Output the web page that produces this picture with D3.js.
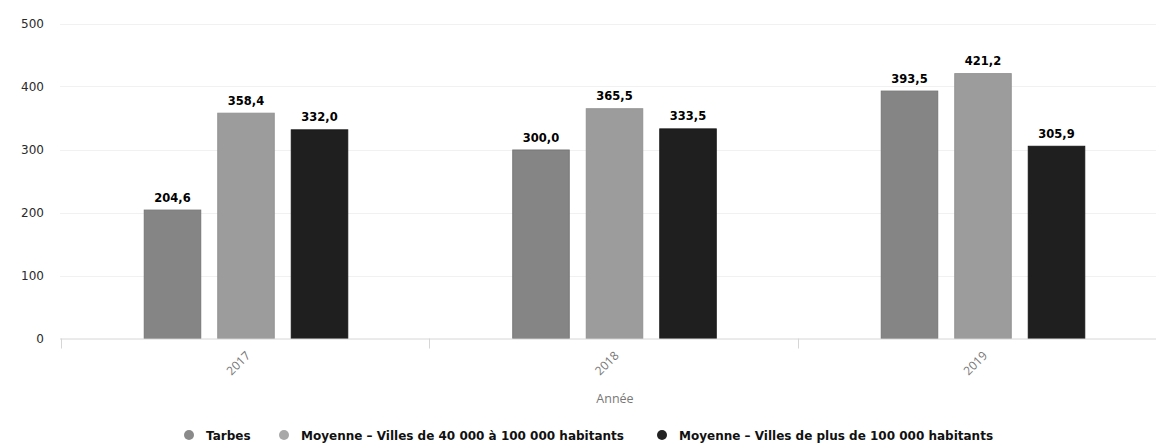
<!DOCTYPE html>
<html>
<head>
<meta charset="utf-8">
<script src="https://cdn.jsdelivr.net/npm/d3@7"></script>
<style>
  html, body { margin: 0; padding: 0; background: #fff; }
  svg { display: block; }
</style>
</head>
<body>
<svg id="chart" width="1156" height="448"></svg>
<script>
// Chart data
const years = ["2017", "2018", "2019"];
const seriesNames = [
  "Tarbes",
  "Moyenne – Villes de 40 000 à 100 000 habitants",
  "Moyenne – Villes de plus de 100 000 habitants"
];
const tarbes = [204.6, 300.0, 393.5];
const villes40k = [358.4, 365.5, 421.2];
const villes100k = [332.0, 333.5, 305.9];
const yTicks = [0, 100, 200, 300, 400, 500];
const xTitle = "Année";

const seriesValues = [tarbes, villes40k, villes100k];
const colors = ["#858585", "#9c9c9c", "#1f1f1f"];
const strokes = ["#777777", "#939393", "#1a1a1a"];
const legendColors = ["#8a8a8a", "#a8a8a8", "#222222"];

const svg = d3.select("#chart");

// Scales
const x0 = d3.scaleBand().domain(years).range([61.75, 1167.25]).paddingInner(0).paddingOuter(0);
const groupWidth = 204.5;
const y = d3.scaleLinear().domain([0, 500]).range([338.5, 23.5]);

const fmt = v => d3.format(".1f")(v).replace(".", ",");

// Gridlines
svg.append("g")
  .selectAll("line")
  .data(yTicks.filter(t => t > 0))
  .join("line")
  .attr("x1", 60).attr("x2", 1156)
  .attr("y1", d => Math.round(y(d)) + 0.5).attr("y2", d => Math.round(y(d)) + 0.5)
  .attr("stroke", "#f1f1f1").attr("stroke-width", 1);

// Y axis labels
const yAxis = d3.axisLeft(y).tickValues(yTicks).tickSize(0).tickPadding(0);
const gy = svg.append("g").attr("transform", "translate(44,0)").call(yAxis);
gy.select(".domain").remove();
gy.selectAll("text")
  .attr("font-family", "DejaVu Sans, sans-serif")
  .attr("font-size", "12px")
  .attr("fill", "#2a2a2a");

// Bars
const groups = svg.append("g")
  .selectAll("g")
  .data(years)
  .join("g");

groups.each(function (year, yi) {
  const cx = x0(year) + x0.bandwidth() / 2;
  const x1 = d3.scaleBand().domain(d3.range(seriesNames.length))
    .range([cx - groupWidth / 2, cx + groupWidth / 2])
    .paddingInner(0.218).paddingOuter(0);
  const g = d3.select(this);
  const rows = seriesValues.map((vals, si) => ({ si, v: vals[yi] }));
  g.selectAll("rect")
    .data(rows)
    .join("rect")
    .attr("x", d => x1(d.si) + 0.5)
    .attr("width", x1.bandwidth() - 1)
    .attr("y", d => y(d.v) + 0.5)
    .attr("height", d => y(0) - y(d.v) - 0.5)
    .attr("fill", d => colors[d.si])
    .attr("stroke", d => strokes[d.si])
    .attr("stroke-width", 1);
  g.selectAll("text")
    .data(rows)
    .join("text")
    .attr("x", d => x1(d.si) + x1.bandwidth() / 2)
    .attr("y", d => y(d.v) - 8)
    .attr("text-anchor", "middle")
    .attr("font-family", "DejaVu Sans, sans-serif")
    .attr("font-weight", "bold")
    .attr("font-size", "11.5px")
    .attr("fill", "#000")
    .text(d => fmt(d.v));
});

// X axis (baseline + band-edge ticks)
const gx = svg.append("g").attr("transform", `translate(0,${y(0)})`);
gx.append("line")
  .attr("x1", 60).attr("x2", 1156).attr("y1", 0.5).attr("y2", 0.5)
  .attr("stroke", "#d6d6d6");
gx.selectAll("line.tick")
  .data(years)
  .join("line")
  .attr("class", "tick")
  .attr("x1", d => Math.round(x0(d)) - 0.5).attr("x2", d => Math.round(x0(d)) - 0.5)
  .attr("y1", 0).attr("y2", 10)
  .attr("stroke", "#d6d6d6");
gx.selectAll("text")
  .data(years)
  .join("text")
  .attr("transform", d => `translate(${x0(d) + x0.bandwidth() / 2 + 5},${18}) rotate(-45)`)
  .attr("text-anchor", "end")
  .attr("font-family", "Open Sans, sans-serif")
  .attr("font-size", "12px")
  .attr("fill", "#777")
  .text(d => d);

// X axis title
svg.append("text")
  .attr("x", 615).attr("y", 403)
  .attr("text-anchor", "middle")
  .attr("font-family", "Open Sans, sans-serif")
  .attr("font-size", "12.5px")
  .attr("fill", "#777")
  .text(xTitle);

// Legend
const legendX = [189, 284, 662];
const legend = svg.append("g")
  .selectAll("g")
  .data(seriesNames)
  .join("g")
  .attr("transform", (d, i) => `translate(${legendX[i]},435)`);
legend.append("circle")
  .attr("r", 5)
  .attr("fill", (d, i) => legendColors[i]);
legend.append("text")
  .attr("x", 17).attr("y", 4.5)
  .attr("font-family", "DejaVu Sans, sans-serif")
  .attr("font-weight", "bold")
  .attr("font-size", "12px")
  .attr("fill", "#111")
  .text(d => d);
</script>
</body>
</html>
